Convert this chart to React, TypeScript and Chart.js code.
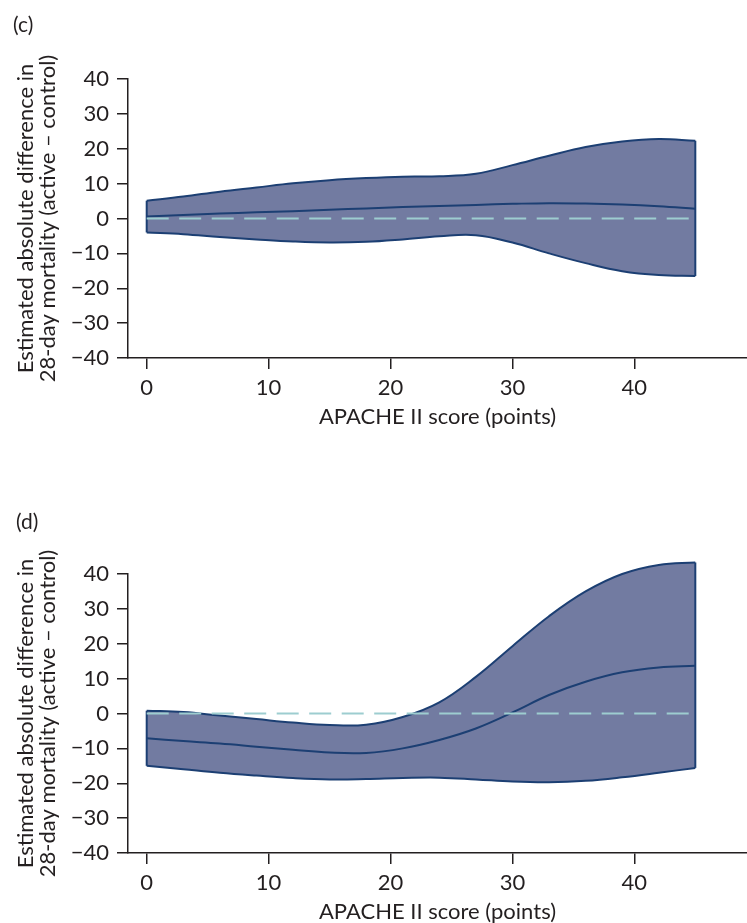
import { useEffect, useRef } from "react";
import { Chart, registerables } from "chart.js";

Chart.register(...registerables);

// APACHE II score positions where the model estimates are listed
const APACHE = [0, 3, 6, 9, 12, 15, 18, 21, 24, 27, 30, 33, 36, 39, 42, 45];

// Panel (c): estimated difference with 95% band
const C_UPPER = [5.1, 6.3, 7.7, 8.9, 10.1, 11.0, 11.6, 12.0, 12.1, 12.8, 15.3, 18.0, 20.5, 22.1, 22.8, 22.3];
const C_MID = [0.6, 1.0, 1.4, 1.8, 2.1, 2.5, 2.9, 3.3, 3.6, 3.9, 4.2, 4.4, 4.3, 4.0, 3.5, 2.8];
const C_LOWER = [-4.0, -4.5, -5.3, -6.0, -6.6, -6.9, -6.7, -6.0, -5.1, -4.8, -6.9, -10.0, -12.8, -15.1, -16.2, -16.5];

// Panel (d)
const D_UPPER = [0.8, 0.4, -0.6, -1.6, -2.6, -3.3, -3.2, -1.0, 3.2, 10.5, 19.3, 27.9, 35.0, 40.0, 42.6, 43.3];
const D_MID = [-7.1, -7.9, -8.6, -9.5, -10.4, -11.2, -11.3, -10.0, -7.6, -4.3, 0.3, 5.3, 9.1, 11.8, 13.2, 13.7];
const D_LOWER = [-15.0, -16.0, -17.0, -17.8, -18.5, -18.9, -18.8, -18.5, -18.4, -18.9, -19.5, -19.7, -19.3, -18.3, -17.0, -15.6];

// Reference line of no difference
const ZERO_X = [0, 45];
const ZERO_Y = [0, 0];

const X_TICKS = [0, 10, 20, 30, 40];
const Y_TICKS = [-40, -30, -20, -10, 0, 10, 20, 30, 40];
const X_TITLE = "APACHE II score (points)";
const Y_TITLE = ["Estimated absolute difference in", "28-day mortality (active \u2013 control)"];

const FONT = "Lato, 'Open Sans', sans-serif";
const AXIS = "#231F20";
const NAVY = "#1C3F73";
const BAND = "#727BA1";
const TEAL = "#9DCDD0";

type PanelProps = {
  label: string;
  upper: number[];
  mid: number[];
  lower: number[];
  top: number;
  height: number;
  padTop: number;
  labelX: number;
  labelY: number;
};

function Panel({ label, upper, mid, lower, top, height, padTop, labelX, labelY }: PanelProps) {
  const ref = useRef<HTMLCanvasElement | null>(null);

  useEffect(() => {
    const canvas = ref.current;
    if (!canvas) return;
    const pts = (ys: number[]) => APACHE.map((x, i) => ({ x, y: ys[i] }));
    const last = APACHE.length - 1;

    const panelLabel = {
      id: "panelLabel",
      afterDraw(chart: Chart) {
        const ctx = chart.ctx;
        ctx.save();
        ctx.font = `21px ${FONT}`;
        ctx.fillStyle = AXIS;
        ctx.textBaseline = "alphabetic";
        ctx.textAlign = "left";
        ctx.fillText(label, labelX, labelY);
        ctx.restore();
      },
    };

    // Let the confidence band spill above the top tick, as the curves do.
    const openTop = {
      id: "openTop",
      beforeDatasetsDraw(chart: any) {
        chart.$areaTop = chart.chartArea.top;
        chart.chartArea.top = 0;
      },
      afterDatasetsDraw(chart: any) {
        chart.chartArea.top = chart.$areaTop;
      },
    };

    const tickFont = { family: FONT, size: 22 };
    const curve = { borderColor: NAVY, borderWidth: 2, tension: 0.4, clip: false as const };

    const chart = new Chart(canvas, {
      type: "line",
      data: {
        datasets: [
          {
            data: ZERO_X.map((x, i) => ({ x, y: ZERO_Y[i] })),
            borderColor: TEAL,
            borderWidth: 2,
            borderDash: [22, 10.5],
            fill: false,
            order: 0,
          },
          { ...curve, data: pts(mid), fill: false, order: 1 },
          { ...curve, data: pts(upper), backgroundColor: BAND, fill: "+1", order: 3 },
          { ...curve, data: pts(lower), fill: false, order: 2 },
          {
            ...curve,
            tension: 0,
            data: [
              { x: APACHE[0], y: lower[0] },
              { x: APACHE[0], y: upper[0] },
            ],
            fill: false,
            order: 2,
          },
          {
            ...curve,
            tension: 0,
            data: [
              { x: APACHE[last], y: lower[last] },
              { x: APACHE[last], y: upper[last] },
            ],
            fill: false,
            order: 2,
          },
        ],
      },
      options: {
        animation: false,
        responsive: false,
        maintainAspectRatio: false,
        events: [],
        layout: { padding: { top: padTop, left: 0, right: 0, bottom: 0 } },
        elements: { point: { radius: 0 } },
        plugins: { legend: { display: false }, tooltip: { enabled: false } },
        scales: {
          x: {
            type: "linear",
            min: -1.534,
            max: 49.24,
            afterBuildTicks: (s: any) => {
              s.ticks = X_TICKS.map((v) => ({ value: v }));
            },
            afterFit: (s: any) => {
              s.height = 70;
            },
            border: { display: true, color: AXIS, width: 1.5 },
            grid: { drawOnChartArea: false, drawTicks: true, tickLength: 11, color: AXIS, lineWidth: 1.5 },
            ticks: { font: tickFont, color: AXIS, padding: 6, maxRotation: 0, autoSkip: false },
            title: {
              display: true,
              text: X_TITLE,
              color: AXIS,
              font: { family: FONT, size: 22, lineHeight: 1 },
              padding: { top: 0, bottom: 0 },
            },
          },
          y: {
            type: "linear",
            min: -40,
            max: 40,
            afterBuildTicks: (s: any) => {
              s.ticks = Y_TICKS.map((v) => ({ value: v }));
            },
            afterFit: (s: any) => {
              s.width = 128;
            },
            border: { display: true, color: AXIS, width: 1.5 },
            grid: { drawOnChartArea: false, drawTicks: true, tickLength: 11, color: AXIS, lineWidth: 1.5 },
            ticks: {
              font: tickFont,
              color: AXIS,
              padding: 8,
              autoSkip: false,
              callback: (v: any) => (Number(v) < 0 ? "\u2212" + Math.abs(Number(v)) : String(v)),
            },
            title: {
              display: true,
              text: Y_TITLE,
              color: AXIS,
              font: { family: FONT, size: 22, lineHeight: 0.977 },
              padding: { top: 15.25, bottom: 0 },
            },
          },
        },
      },
      plugins: [openTop, panelLabel],
    } as any);

    return () => chart.destroy();
  }, [label, upper, mid, lower, padTop, labelX, labelY]);

  return (
    <canvas
      ref={ref}
      width={747}
      height={height}
      style={{ position: "absolute", left: 0, top, width: 747, height }}
    />
  );
}

export default function App() {
  return (
    <div style={{ position: "absolute", left: 0, top: 0, width: 747, height: 923, background: "#fff", overflow: "hidden" }}>
      <Panel label="(c)" upper={C_UPPER} mid={C_MID} lower={C_LOWER} top={0} height={428} padTop={79} labelX={13} labelY={31.5} />
      <Panel label="(d)" upper={D_UPPER} mid={D_MID} lower={D_LOWER} top={460} height={463} padTop={114} labelX={16} labelY={68.5} />
    </div>
  );
}
